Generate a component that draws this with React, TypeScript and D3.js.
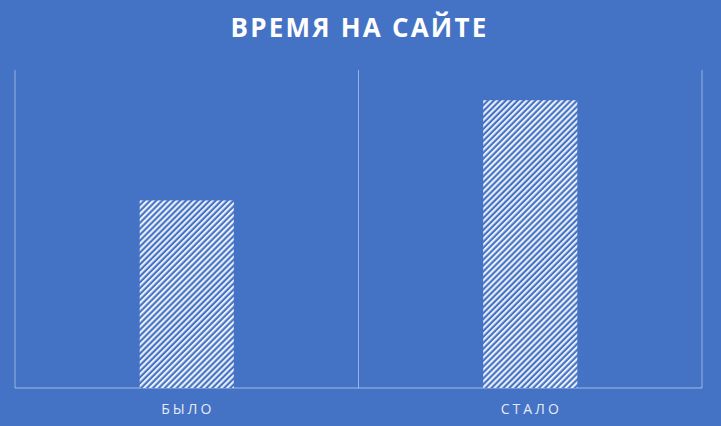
import { useEffect, useRef } from "react";
import * as d3 from "d3";

const categories = ["БЫЛО", "СТАЛО"];
const values = [59, 90.5];
const title = "ВРЕМЯ НА САЙТЕ";

const width = 721;
const height = 426;

export default function App() {
    const svgRef = useRef<SVGSVGElement | null>(null);

    useEffect(() => {
        const svg = d3.select(svgRef.current);
        svg.selectAll("*").remove();

        const margin = { top: 70, right: 19, bottom: 38, left: 15 };
        const innerW = width - margin.left - margin.right;
        const innerH = height - margin.top - margin.bottom;

        // background
        svg.append("rect")
            .attr("width", width)
            .attr("height", height)
            .attr("fill", "#4472c4");

        // hatch pattern (light diagonal lines)
        const defs = svg.append("defs");
        const pattern = defs.append("pattern")
            .attr("id", "hatch")
            .attr("patternUnits", "userSpaceOnUse")
            .attr("width", 4.2)
            .attr("height", 4.2)
            .attr("patternTransform", "rotate(45)");
        pattern.append("rect")
            .attr("width", 4.2)
            .attr("height", 4.2)
            .attr("fill", "#4472c4");
        pattern.append("line")
            .attr("x1", 1.1).attr("y1", 0)
            .attr("x2", 1.1).attr("y2", 4.2)
            .attr("stroke", "#f4f7fc")
            .attr("stroke-width", 2);

        const g = svg.append("g")
            .attr("transform", `translate(${margin.left},${margin.top})`);

        const x = d3.scaleBand<string>()
            .domain(categories)
            .range([0, innerW])
            .padding(0);

        const y = d3.scaleLinear()
            .domain([0, 100])
            .range([innerH, 0]);

        // vertical category separators
        const edges = [0, ...categories.map(c => (x(c) ?? 0) + x.bandwidth())];
        g.selectAll("line.grid")
            .data(edges)
            .join("line")
            .attr("class", "grid")
            .attr("x1", d => d).attr("x2", d => d)
            .attr("y1", 0).attr("y2", innerH)
            .attr("stroke", "rgba(255,255,255,0.45)")
            .attr("stroke-width", 1);

        // baseline
        g.append("line")
            .attr("x1", 0).attr("x2", innerW)
            .attr("y1", innerH).attr("y2", innerH)
            .attr("stroke", "rgba(255,255,255,0.5)")
            .attr("stroke-width", 1);

        const barW = x.bandwidth() * 0.274;

        g.selectAll("rect.bar")
            .data(values)
            .join("rect")
            .attr("class", "bar")
            .attr("x", (_, i) => (x(categories[i]) ?? 0) + (x.bandwidth() - barW) / 2)
            .attr("y", d => y(d))
            .attr("width", barW)
            .attr("height", d => innerH - y(d))
            .attr("fill", "url(#hatch)");

        // category labels
        g.selectAll("text.cat")
            .data(categories)
            .join("text")
            .attr("class", "cat")
            .attr("x", d => (x(d) ?? 0) + x.bandwidth() / 2 + 1)
            .attr("y", innerH + 26)
            .attr("text-anchor", "middle")
            .attr("fill", "#e4ebf7")
            .style("font-family", "'Open Sans', sans-serif")
            .style("font-size", "14px")
            .style("letter-spacing", "3px")
            .text(d => d);

        // title
        svg.append("text")
            .attr("x", width / 2 - 1)
            .attr("y", 37)
            .attr("text-anchor", "middle")
            .attr("fill", "#ffffff")
            .style("font-family", "'Open Sans', sans-serif")
            .style("font-weight", "bold")
            .style("font-size", "26px")
            .style("letter-spacing", "2.2px")
            .text(title);
    }, []);

    return (
        <svg
            ref={svgRef}
            width={width}
            height={height}
            style={{ position: "absolute", left: 0, top: 0 }}
        />
    );
}
